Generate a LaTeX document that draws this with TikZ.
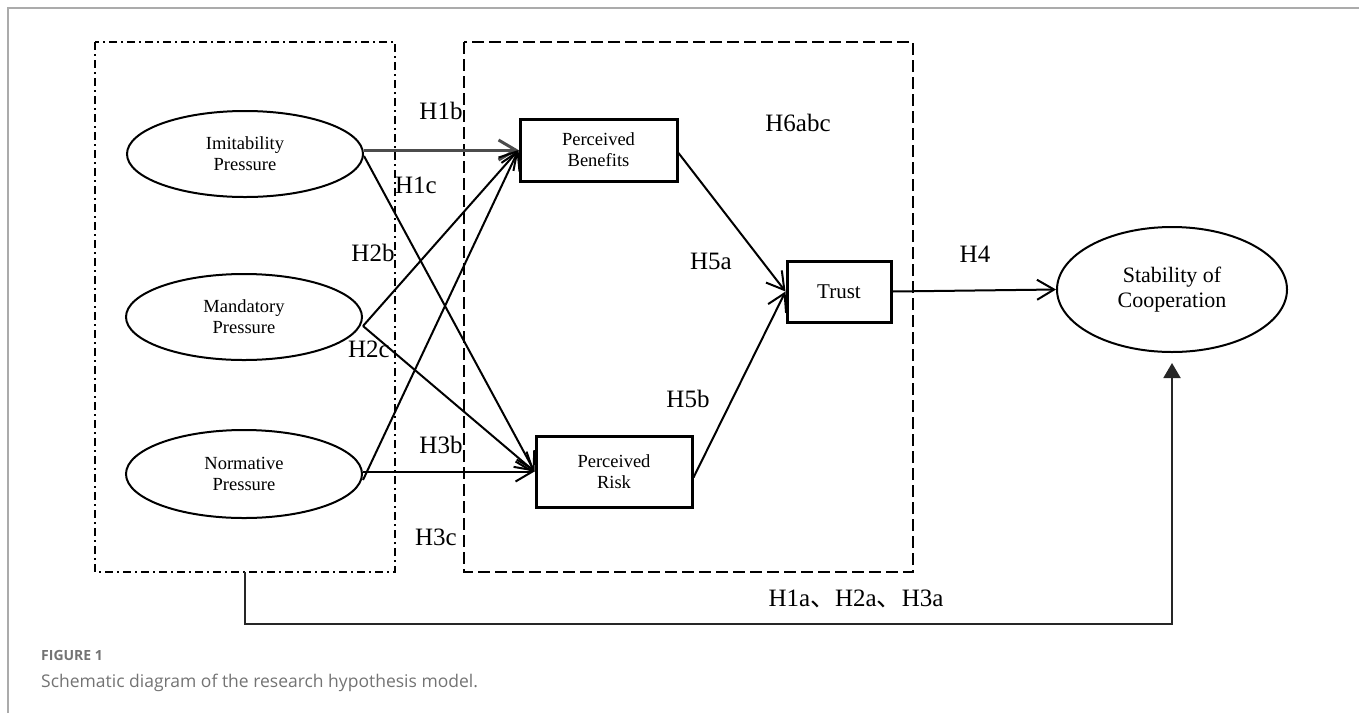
\documentclass[tikz,border=0pt]{standalone}
\usepackage{fontspec}
\setmainfont{Liberation Serif}
\newfontfamily\capfont{Open Sans}
\newfontfamily\cjk{Noto Sans CJK SC}
\usetikzlibrary{arrows.meta,shapes.geometric}
\begin{document}
\begin{tikzpicture}[x=1pt,y=-1pt,
  ell/.style={draw,line width=2pt,ellipse,inner sep=0pt,align=center},
  rbox/.style={draw,line width=3pt,rectangle,inner sep=0pt,align=center},
  small/.style={font=\fontsize{18.5}{21}\selectfont},
  lbl/.style={font=\fontsize{25}{28}\selectfont,inner sep=0pt},
  arr/.style={line width=2pt,-{Straight Barb[length=17pt,width=20pt]}},
  dashdotbox/.style={line width=2pt,dash pattern=on 8pt off 4pt on 2pt off 4pt},
  dashbox/.style={line width=2pt,dash pattern=on 12pt off 5pt},
  frame/.style={line width=2pt,draw=black!33}
]
\useasboundingbox (0,0) rectangle (1359,713);
% frame
\draw[frame] (8,713) -- (8,8) -- (1359,8);
% group boxes
\draw[dashdotbox] (95,42) rectangle (395,572);
\draw[dashbox] (464,42) rectangle (913,572);
\coordinate (boxbot) at (245,572);
% nodes
\node[ell,small,minimum width=236pt,minimum height=86pt] (imi) at (245,154) {Imitability\\Pressure};
\node[ell,small,minimum width=236pt,minimum height=86pt] (man) at (244,317) {Mandatory\\Pressure};
\node[ell,small,minimum width=236pt,minimum height=88pt] (nor) at (244,474) {Normative\\Pressure};
\node[rbox,small,minimum width=157pt,minimum height=62pt] (pb) at (598.5,150) {Perceived\\Benefits};
\node[rbox,small,minimum width=156pt,minimum height=71pt] (pr) at (614,471.5) {Perceived\\Risk};
\node[rbox,font=\fontsize{21}{24}\selectfont,minimum width=104pt,minimum height=61pt] (tr) at (839,291.5) {Trust};
\node[ell,font=\fontsize{22}{25}\selectfont,minimum width=230pt,minimum height=125pt] (st) at (1172,289.5) {Stability of\\Cooperation};
% connectors
\draw[arr,draw=black!70,line width=3pt] (imi.east |- pb.west) -- (pb.west);
\draw[arr] ([yshift=-2pt]imi.east) -- (pr.west);
\draw[arr] ([yshift=-9pt]man.east) -- (pb.west);
\draw[arr] ([yshift=-9pt]man.east) -- (pr.west);
\draw[arr] ([yshift=-6pt]nor.east) -- (pb.west);
\draw[arr] (nor.east |- pr.west) -- (pr.west);
\draw[arr] ([yshift=-3pt]pb.east) -- (tr.west);
\draw[arr] ([yshift=-6pt]pr.east) -- (tr.west);
\draw[arr] (tr.east) -- (st.west);
\draw[line width=2pt,draw=black!85,-{Triangle[length=15pt,width=17pt]},shorten >=10pt]
  (boxbot) -- (245,624) -| (st.south);
% labels
\node[lbl] (h1b) at (441,111) {H1b};
\node[lbl] (h1c) at (416,185) {H1c};
\node[lbl] (h2b) at (373,253) {H2b};
\node[lbl] (h2c) at (369,349) {H2c};
\node[lbl] (h3b) at (441,445) {H3b};
\node[lbl] (h3c) at (436,537) {H3c};
\node[lbl] (h5a) at (711,261) {H5a};
\node[lbl] (h5b) at (688,399) {H5b};
\node[lbl] (h6) at (798,123) {H6abc};
\node[lbl] (h4) at (975,254) {H4};
\node[lbl] (h123) at (856,599) {H1a{\cjk 、}H2a{\cjk 、}H3a};
% caption
\node[anchor=base west,inner sep=0pt,font=\capfont\bfseries\fontsize{14}{16}\selectfont,text=black!55] (figlab) at (41,660) {FIGURE 1};
\node[anchor=base west,inner sep=0pt,font=\capfont\fontsize{17.5}{20}\selectfont,text=black!55] (cap) at (41,687) {Schematic diagram of the research hypothesis model.};
\end{tikzpicture}
\end{document}
